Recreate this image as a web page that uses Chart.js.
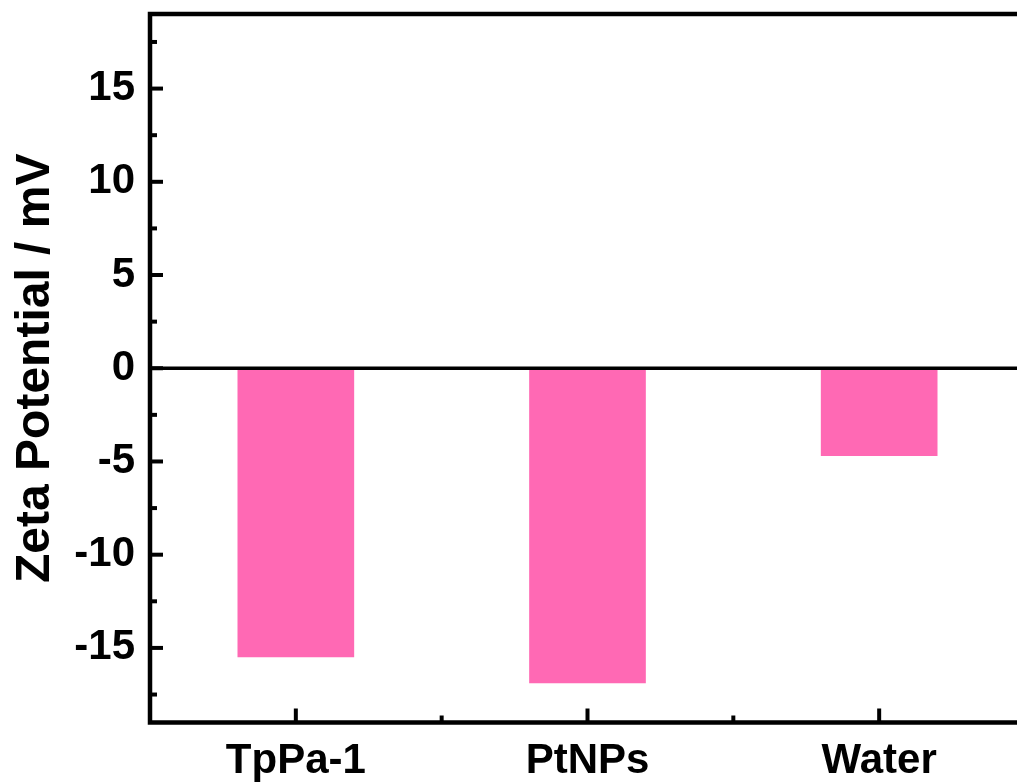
<!DOCTYPE html>
<html>
<head>
<meta charset="utf-8">
<script src="https://cdn.jsdelivr.net/npm/chart.js@4/dist/chart.umd.min.js"></script>
<style>
  html, body { margin: 0; padding: 0; background: #fff; overflow: hidden; width: 1017px; height: 782px; }
  canvas { display: block; }
</style>
</head>
<body>
<canvas id="c" width="1060" height="782"></canvas>
<script>
// Zeta potential per sample (mV)
const categories = ['TpPa-1', 'PtNPs', 'Water'];
const zeta = [-15.5, -16.9, -4.7];
const yTicks = [-15, -10, -5, 0, 5, 10, 15];
const yMinorTicks = [-17.5, -12.5, -7.5, -2.5, 2.5, 7.5, 12.5, 17.5];
const xMinorTicks = [1.5, 2.5];

const FONT = "'Liberation Sans', Arial, sans-serif";

// Axis lines (left, top, bottom), zero line and inward-pointing ticks
const framePlugin = {
  id: 'frame',
  afterDraw(chart) {
    const { ctx, chartArea: a, scales: { x, y } } = chart;
    ctx.save();
    ctx.strokeStyle = '#000';
    ctx.lineCap = 'butt';
    const seg = (x1, y1, x2, y2) => { ctx.beginPath(); ctx.moveTo(x1, y1); ctx.lineTo(x2, y2); ctx.stroke(); };

    ctx.lineWidth = 3.5;
    const y0 = y.getPixelForValue(0);
    seg(a.left, y0, a.right, y0);

    ctx.lineWidth = 4;
    yTicks.forEach(v => { const p = y.getPixelForValue(v); seg(a.left, p, a.left + 13, p); });
    yMinorTicks.forEach(v => { const p = y.getPixelForValue(v); seg(a.left, p, a.left + 7, p); });
    categories.forEach((c, i) => { const p = x.getPixelForValue(i + 1); seg(p, a.bottom, p, a.bottom - 14); });
    xMinorTicks.forEach(v => { const p = x.getPixelForValue(v); seg(p, a.bottom, p, a.bottom - 7); });

    ctx.lineWidth = 4.5;
    ctx.beginPath();
    ctx.moveTo(a.right + 20, a.top);
    ctx.lineTo(a.left, a.top);
    ctx.lineTo(a.left, a.bottom);
    ctx.lineTo(a.right + 20, a.bottom);
    ctx.stroke();
    ctx.restore();
  }
};

new Chart(document.getElementById('c'), {
  type: 'bar',
  data: {
    datasets: [{
      data: zeta.map((v, i) => ({ x: i + 1, y: v })),
      backgroundColor: '#FF69B4',
      borderWidth: 0,
      barPercentage: 0.4,
      categoryPercentage: 1
    }]
  },
  options: {
    responsive: false,
    animation: false,
    layout: { padding: { left: 0, top: 14, right: 35, bottom: 0 } },
    plugins: { legend: { display: false }, tooltip: { enabled: false } },
    scales: {
      x: {
        type: 'linear',
        min: 0.5,
        max: 3.5,
        offset: false,
        grid: { display: false, drawTicks: false },
        border: { display: false },
        afterBuildTicks: s => { s.ticks = categories.map((c, i) => ({ value: i + 1 })); },
        ticks: {
          callback: (v, i) => categories[i],
          font: { family: FONT, size: 42, weight: 'bold' },
          color: '#000',
          padding: 14,
          maxRotation: 0,
          autoSkip: false
        },
        afterFit: s => { s.height = 59.5; s.paddingLeft = 0; s.paddingRight = 0; }
      },
      y: {
        min: -19,
        max: 19,
        grid: { display: false, drawTicks: false },
        border: { display: false },
        afterBuildTicks: s => { s.ticks = yTicks.map(v => ({ value: v })); },
        ticks: {
          font: { family: FONT, size: 42, weight: 'bold' },
          color: '#000',
          padding: 15
        },
        title: {
          display: true,
          text: 'Zeta Potential / mV',
          font: { family: FONT, size: 48, weight: 'bold' },
          color: '#000',
          padding: { top: 7, bottom: 0 }
        },
        afterFit: s => { s.width = 150; s.paddingTop = 0; s.paddingBottom = 0; }
      }
    }
  },
  plugins: [framePlugin]
});
</script>
</body>
</html>
